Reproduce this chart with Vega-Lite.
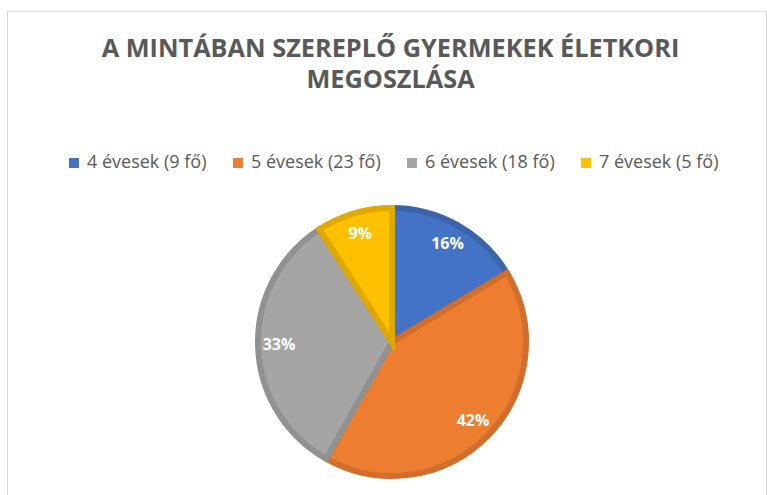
{
  "$schema": "https://vega.github.io/schema/vega-lite/v6.json",
  "autosize": {"type": "none"},
  "width": 759,
  "height": 490,
  "padding": {"left": 7, "top": 11, "right": 1, "bottom": 0},
  "background": "white",
  "view": {"stroke": "#d9d9d9", "strokeWidth": 1, "fill": "white"},
  "title": {
    "text": ["A MINTÁBAN SZEREPLŐ GYERMEKEK ÉLETKORI", "MEGOSZLÁSA"],
    "font": "Open Sans",
    "fontSize": 25.3,
    "fontWeight": "bold",
    "color": "#595959",
    "anchor": "middle",
    "lineHeight": 31,
    "offset": -82,
    "dx": 4
  },
  "data": {
    "values": [
      {"group": "4 évesek (9 fő)", "count": 9, "label": "16%"},
      {"group": "5 évesek (23 fő)", "count": 23, "label": "42%"},
      {"group": "6 évesek (18 fő)", "count": 18, "label": "33%"},
      {"group": "7 évesek (5 fő)", "count": 5, "label": "9%"}
    ]
  },
  "encoding": {
    "theta": {"field": "count", "type": "quantitative", "stack": true},
    "order": {"field": "group", "type": "ordinal", "sort": "ascending"}
  },
  "layer": [
    {
      "mark": {
        "type": "arc",
        "outerRadius": 134,
        "strokeWidth": 6,
        "x": {"expr": "width/2+5.5"},
        "y": {"expr": "height/2+86"}
      },
      "encoding": {
        "fill": {
          "field": "group",
          "type": "nominal",
          "sort": null,
          "scale": {
            "domain": ["4 évesek (9 fő)", "5 évesek (23 fő)", "6 évesek (18 fő)", "7 évesek (5 fő)"],
            "range": ["#4472C4", "#ED7D31", "#A5A5A5", "#FFC000"]
          },
          "legend": {
            "title": null,
            "orient": "none",
            "legendX": 58,
            "legendY": 143,
            "direction": "horizontal",
            "symbolType": "square",
            "symbolSize": 100,
            "symbolStrokeWidth": 0,
            "labelFont": "Open Sans",
            "labelFontSize": 18,
            "labelColor": "#595959",
            "labelOffset": 4,
            "columnPadding": 22,
            "symbolOffset": 0
          }
        },
        "stroke": {
          "field": "group",
          "type": "nominal",
          "sort": null,
          "scale": {
            "domain": ["4 évesek (9 fő)", "5 évesek (23 fő)", "6 évesek (18 fő)", "7 évesek (5 fő)"],
            "range": ["#3C64AC", "#D16E2B", "#919191", "#E0A900"]
          },
          "legend": null
        }
      }
    },
    {
      "mark": {
        "type": "text",
        "radius": 113,
        "font": "Open Sans",
        "fontSize": 16,
        "fontWeight": "bold",
        "fill": "white",
        "x": {"expr": "width/2+5.5"},
        "y": {"expr": "height/2+86"}
      },
      "encoding": {
        "text": {"field": "label", "type": "nominal"}
      }
    }
  ]
}
